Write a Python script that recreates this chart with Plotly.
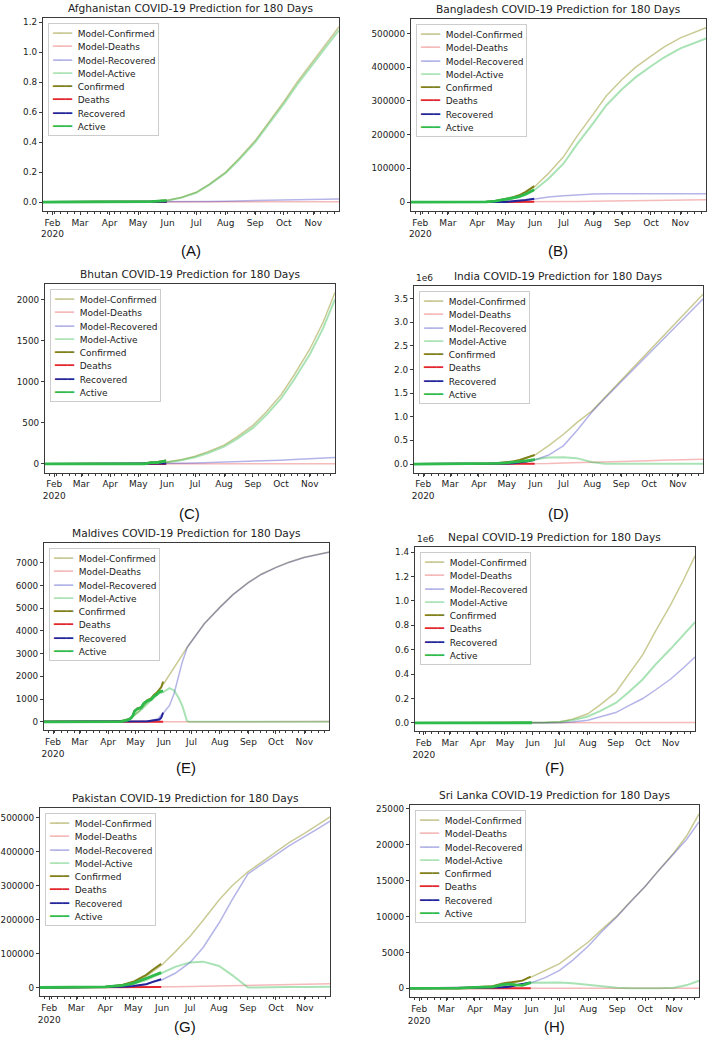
import plotly.graph_objects as go

# ---------------- data ----------------
MODEL_DATES = ["2020-01-22", "2020-02-15", "2020-03-15", "2020-04-01", "2020-04-15", "2020-05-01",
               "2020-05-15", "2020-06-01", "2020-06-15", "2020-07-01", "2020-07-15", "2020-08-01",
               "2020-08-15", "2020-09-01", "2020-09-15", "2020-10-01", "2020-10-15", "2020-11-01",
               "2020-11-15", "2020-11-28"]
OBS_DATES = ["2020-01-22", "2020-03-01", "2020-03-15", "2020-04-01", "2020-04-10", "2020-04-20",
             "2020-05-01", "2020-05-08", "2020-05-15", "2020-05-22", "2020-05-31"]
MDV_MODEL_DATES = ["2020-01-22", "2020-03-15", "2020-04-01", "2020-04-15", "2020-04-25", "2020-05-05",
                   "2020-05-15", "2020-05-25", "2020-06-01", "2020-06-07", "2020-06-12", "2020-06-17",
                   "2020-06-21", "2020-06-24", "2020-06-26", "2020-06-28", "2020-07-05", "2020-07-15",
                   "2020-08-01", "2020-08-15", "2020-09-01", "2020-09-15", "2020-10-01", "2020-10-15",
                   "2020-11-01", "2020-11-15", "2020-11-28"]
MDV_OBS_DATES = ["2020-01-22", "2020-03-08", "2020-04-01", "2020-04-15", "2020-04-22", "2020-04-26",
                 "2020-04-28", "2020-04-30", "2020-05-03", "2020-05-07", "2020-05-10", "2020-05-14",
                 "2020-05-18", "2020-05-21", "2020-05-24", "2020-05-27", "2020-05-29", "2020-05-31"]

# Afghanistan
AFG_M_CONF = [0, 0, 0, 0, 0.001, 0.002, 0.005, 0.012, 0.03, 0.065, 0.12, 0.2, 0.29, 0.41, 0.53, 0.67, 0.8, 0.94, 1.06, 1.17]
AFG_M_DEATH = [0, 0, 0, 0, 0, 0, 0, 0, 0, 0, 0.0002, 0.0004, 0.0006, 0.0008, 0.001, 0.0012, 0.0014, 0.0016, 0.0018, 0.002]
AFG_M_REC = [0, 0, 0, 0, 0, 0, 0.0005, 0.001, 0.002, 0.003, 0.004, 0.006, 0.008, 0.01, 0.012, 0.014, 0.016, 0.018, 0.019, 0.02]
AFG_M_ACT = [0, 0, 0, 0, 0.001, 0.002, 0.0045, 0.011, 0.028, 0.062, 0.116, 0.194, 0.282, 0.4, 0.517, 0.655, 0.783, 0.92, 1.04, 1.148]
AFG_CONF = [0, 0, 0, 0, 0, 0, 0.001, 0.002, 0.004, 0.007, 0.011]
AFG_DEATH = [0, 0, 0, 0, 0, 0, 0, 0, 0, 0, 0]
AFG_REC = [0, 0, 0, 0, 0, 0, 0, 0, 0.001, 0.001, 0.002]
AFG_ACT = [0, 0, 0, 0, 0, 0, 0.001, 0.002, 0.003, 0.006, 0.009]

# Bangladesh
BGD_M_CONF = [0, 0, 0, 100, 1000, 5000, 17000, 47000, 85000, 135000, 195000, 260000, 315000, 365000, 400000, 433000, 460000, 487000, 503000, 517000]
BGD_M_DEATH = [0, 0, 0, 0, 50, 150, 300, 650, 1000, 1500, 2000, 2800, 3400, 4000, 4600, 5200, 5700, 6300, 6700, 7000]
BGD_M_REC = [0, 0, 0, 0, 50, 200, 1500, 9000, 15000, 19000, 22000, 24000, 24500, 25000, 25000, 25000, 25000, 25000, 25000, 25000]
BGD_M_ACT = [0, 0, 0, 100, 900, 4650, 15200, 37350, 69000, 114500, 171000, 233200, 287100, 336000, 370400, 402800, 429300, 455700, 471300, 485000]
BGD_CONF = [0, 0, 3, 54, 424, 2948, 8238, 13770, 20065, 30205, 47153]
BGD_DEATH = [0, 0, 0, 6, 27, 101, 163, 206, 298, 432, 650]
BGD_REC = [0, 0, 0, 25, 33, 85, 174, 2414, 3882, 6190, 9781]
BGD_ACT = [0, 0, 3, 23, 364, 2762, 7901, 11150, 15885, 23583, 36722]

# Bhutan
BTN_M_CONF = [0, 0, 1, 3, 5, 8, 15, 25, 50, 94, 150, 230, 330, 470, 630, 840, 1080, 1400, 1720, 2090]
BTN_M_DEATH = [0, 0, 0, 0, 0, 0, 0, 0, 0, 0, 0, 0, 0, 1, 1, 1, 1, 1, 2, 2]
BTN_M_REC = [0, 0, 0, 0, 1, 2, 3, 5, 8, 12, 16, 20, 25, 30, 37, 45, 53, 62, 71, 80]
BTN_M_ACT = [0, 0, 1, 3, 4, 6, 12, 20, 42, 82, 134, 210, 305, 439, 592, 794, 1026, 1337, 1647, 2008]
BTN_CONF = [0, 0, 1, 4, 5, 5, 7, 7, 21, 24, 43]
BTN_DEATH = [0, 0, 0, 0, 0, 0, 0, 0, 0, 0, 0]
BTN_REC = [0, 0, 0, 0, 2, 2, 5, 5, 5, 6, 6]
BTN_ACT = [0, 0, 1, 4, 3, 3, 2, 2, 16, 18, 37]

# India
IND_M_CONF = [0, 3, 110, 2000, 12000, 37000, 86000, 200000, 390000, 630000, 870000, 1130000, 1420000, 1770000, 2060000, 2390000, 2680000, 3030000, 3320000, 3590000]
IND_M_DEATH = [0, 0, 2, 60, 400, 1200, 2800, 5500, 10000, 20000, 30000, 42000, 50000, 58000, 65000, 72000, 79000, 87000, 95000, 103000]
IND_M_REC = [0, 0, 10, 150, 1500, 10000, 30000, 92000, 190000, 390000, 700000, 1110000, 1400000, 1740000, 2025000, 2350000, 2630000, 2960000, 3230000, 3490000]
IND_M_ACT = [0, 3, 98, 1790, 10100, 25800, 53200, 100000, 140000, 145000, 125000, 40000, 5000, 5000, 5000, 5000, 5000, 5000, 5000, 5000]
IND_CONF = [0, 3, 113, 1998, 7600, 18539, 37257, 56342, 85940, 124794, 190609]
IND_DEATH = [0, 0, 2, 58, 249, 592, 1223, 1889, 2753, 3726, 5408]
IND_REC = [0, 3, 13, 148, 774, 3273, 10007, 16776, 30258, 51824, 91819]
IND_ACT = [0, 0, 98, 1792, 6577, 14674, 26027, 37677, 52929, 69244, 93382]

# Maldives
MDV_M_CONF = [0, 0, 5, 40, 150, 480, 900, 1350, 1700, 2090, 2420, 2740, 3000, 3180, 3270, 3380, 3780, 4330, 5050, 5600, 6140, 6500, 6800, 7030, 7250, 7380, 7480]
MDV_M_DEATH = [0, 0, 0, 0, 1, 2, 3, 4, 5, 6, 7, 8, 8, 9, 9, 9, 10, 10, 10, 10, 10, 10, 10, 10, 10, 10, 10]
MDV_M_REC = [0, 0, 0, 5, 10, 20, 40, 120, 420, 720, 1250, 2050, 2650, 3000, 3250, 3370, 3770, 4320, 5040, 5590, 6130, 6490, 6790, 7020, 7240, 7370, 7470]
MDV_M_ACT = [0, 0, 5, 35, 140, 455, 855, 1225, 1330, 1480, 1380, 1050, 700, 300, 40, 0, 0, 0, 0, 0, 0, 0, 0, 0, 0, 0, 0]
MDV_CONF = [0, 2, 17, 21, 85, 177, 280, 491, 587, 640, 832, 955, 1031, 1186, 1274, 1423, 1520, 1773]
MDV_DEATH = [0, 0, 0, 0, 0, 0, 1, 1, 1, 2, 3, 4, 4, 4, 4, 4, 5, 5]
MDV_REC = [0, 0, 0, 16, 16, 16, 16, 16, 20, 22, 22, 28, 49, 60, 72, 100, 180, 405]
MDV_ACT = [0, 2, 17, 5, 69, 161, 263, 474, 566, 616, 807, 923, 978, 1122, 1198, 1319, 1335, 1363]

# Nepal
NPL_M_CONF = [0, 0, 0, 5, 15, 60, 250, 1500, 4000, 10000, 30000, 75000, 150000, 250000, 390000, 560000, 750000, 970000, 1170000, 1370000]
NPL_M_DEATH = [0, 0, 0, 0, 0, 0, 1, 8, 20, 50, 120, 300, 500, 800, 1100, 1500, 1900, 2300, 2700, 3000]
NPL_M_REC = [0, 0, 0, 1, 2, 10, 40, 200, 1000, 2000, 8000, 22000, 50000, 85000, 140000, 200000, 270000, 360000, 450000, 540000]
NPL_M_ACT = [0, 0, 0, 4, 13, 50, 209, 1292, 2980, 7950, 21880, 52700, 99500, 164200, 248900, 358500, 478100, 607700, 717300, 827000]
NPL_CONF = [0, 1, 1, 5, 9, 31, 59, 101, 267, 548, 1572]
NPL_DEATH = [0, 0, 0, 0, 0, 0, 0, 0, 2, 3, 8]
NPL_REC = [0, 1, 1, 1, 1, 4, 16, 31, 36, 47, 220]
NPL_ACT = [0, 0, 0, 4, 8, 27, 43, 70, 229, 498, 1344]

# Pakistan
PAK_M_CONF = [0, 0, 50, 1500, 5000, 15000, 33000, 67000, 105000, 151000, 198000, 258000, 300000, 341000, 368000, 400000, 427000, 455000, 480000, 503000]
PAK_M_DEATH = [0, 0, 0, 30, 90, 350, 800, 1500, 2200, 3000, 3800, 4700, 5400, 6200, 7000, 7800, 8500, 9300, 10000, 10800]
PAK_M_REC = [0, 0, 0, 100, 700, 4000, 10000, 23000, 42000, 74000, 118000, 190000, 258000, 335000, 360000, 391000, 417000, 444000, 468000, 490000]
PAK_M_ACT = [0, 0, 50, 1370, 4210, 10650, 22200, 42500, 60800, 74000, 76200, 63300, 36600, 0, 1000, 1200, 1500, 1700, 2000, 2200]
PAK_CONF = [0, 4, 53, 2039, 4695, 8418, 16817, 26435, 37218, 52437, 69496]
PAK_DEATH = [0, 0, 0, 26, 66, 176, 385, 599, 803, 1101, 1483]
PAK_REC = [0, 0, 0, 82, 727, 1970, 4315, 7530, 9695, 16653, 24131]
PAK_ACT = [0, 4, 53, 1931, 3902, 6272, 12117, 18306, 26720, 34683, 43882]

# Sri Lanka
LKA_M_CONF = [0, 0, 20, 100, 220, 450, 800, 1600, 2450, 3450, 4800, 6450, 8150, 10100, 12050, 14200, 16350, 18900, 21300, 24300]
LKA_M_DEATH = [0, 0, 0, 2, 5, 7, 8, 10, 11, 12, 13, 14, 15, 16, 17, 18, 19, 20, 21, 22]
LKA_M_REC = [0, 0, 0, 20, 60, 150, 400, 800, 1450, 2500, 3900, 5900, 7850, 10000, 12000, 14180, 16330, 18800, 20800, 23200]
LKA_M_ACT = [0, 0, 20, 80, 150, 290, 390, 780, 830, 800, 700, 470, 250, 80, 20, 0, 0, 80, 450, 1050]
LKA_CONF = [0, 1, 18, 146, 197, 304, 690, 824, 925, 1068, 1620]
LKA_DEATH = [0, 0, 0, 3, 7, 7, 7, 9, 9, 9, 10]
LKA_REC = [0, 1, 1, 17, 56, 98, 154, 232, 439, 638, 811]
LKA_ACT = [0, 0, 17, 126, 134, 199, 529, 583, 477, 421, 799]

# tick values
AFG_YTICKS = [0, 0.2, 0.4, 0.6, 0.8, 1.0, 1.2]
BGD_YTICKS = [0, 100000, 200000, 300000, 400000, 500000]
BTN_YTICKS = [0, 500, 1000, 1500, 2000]
IND_YTICKS = [0, 500000, 1000000, 1500000, 2000000, 2500000, 3000000, 3500000]
MDV_YTICKS = [0, 1000, 2000, 3000, 4000, 5000, 6000, 7000]
NPL_YTICKS = [0, 200000, 400000, 600000, 800000, 1000000, 1200000, 1400000]
PAK_YTICKS = [0, 100000, 200000, 300000, 400000, 500000]
LKA_YTICKS = [0, 5000, 10000, 15000, 20000, 25000]

MONTH_TICKS = ["2020-02-01", "2020-03-01", "2020-04-01", "2020-05-01", "2020-06-01", "2020-07-01",
               "2020-08-01", "2020-09-01", "2020-10-01", "2020-11-01"]
MONTH_LABELS = ["Feb<br>2020", "Mar", "Apr", "May", "Jun", "Jul", "Aug", "Sep", "Oct", "Nov"]
X_RANGE = ["2020-01-22", "2020-11-28"]

MODEL_NAMES = ["Model-Confirmed", "Model-Deaths", "Model-Recovered", "Model-Active"]
OBS_NAMES = ["Confirmed", "Deaths", "Recovered", "Active"]

# ---------------- panel table ----------------
PANELS = [
    dict(title="Afghanistan COVID-19 Prediction for 180 Days", letter="(A)", md=MODEL_DATES, od=OBS_DATES,
         model=[AFG_M_CONF, AFG_M_DEATH, AFG_M_REC, AFG_M_ACT], obs=[AFG_CONF, AFG_DEATH, AFG_REC, AFG_ACT],
         yt=AFG_YTICKS, fmt="{:.1f}", scale=1, offset=None),
    dict(title="Bangladesh COVID-19 Prediction for 180 Days", letter="(B)", md=MODEL_DATES, od=OBS_DATES,
         model=[BGD_M_CONF, BGD_M_DEATH, BGD_M_REC, BGD_M_ACT], obs=[BGD_CONF, BGD_DEATH, BGD_REC, BGD_ACT],
         yt=BGD_YTICKS, fmt="{:.0f}", scale=1, offset=None),
    dict(title="Bhutan COVID-19 Prediction for 180 Days", letter="(C)", md=MODEL_DATES, od=OBS_DATES,
         model=[BTN_M_CONF, BTN_M_DEATH, BTN_M_REC, BTN_M_ACT], obs=[BTN_CONF, BTN_DEATH, BTN_REC, BTN_ACT],
         yt=BTN_YTICKS, fmt="{:.0f}", scale=1, offset=None),
    dict(title="India COVID-19 Prediction for 180 Days", letter="(D)", md=MODEL_DATES, od=OBS_DATES,
         model=[IND_M_CONF, IND_M_DEATH, IND_M_REC, IND_M_ACT], obs=[IND_CONF, IND_DEATH, IND_REC, IND_ACT],
         yt=IND_YTICKS, fmt="{:.1f}", scale=1e6, offset="1e6"),
    dict(title="Maldives COVID-19 Prediction for 180 Days", letter="(E)", md=MDV_MODEL_DATES, od=MDV_OBS_DATES,
         model=[MDV_M_CONF, MDV_M_DEATH, MDV_M_REC, MDV_M_ACT], obs=[MDV_CONF, MDV_DEATH, MDV_REC, MDV_ACT],
         yt=MDV_YTICKS, fmt="{:.0f}", scale=1, offset=None),
    dict(title="Nepal COVID-19 Prediction for 180 Days", letter="(F)", md=MODEL_DATES, od=OBS_DATES,
         model=[NPL_M_CONF, NPL_M_DEATH, NPL_M_REC, NPL_M_ACT], obs=[NPL_CONF, NPL_DEATH, NPL_REC, NPL_ACT],
         yt=NPL_YTICKS, fmt="{:.1f}", scale=1e6, offset="1e6"),
    dict(title="Pakistan COVID-19 Prediction for 180 Days", letter="(G)", md=MODEL_DATES, od=OBS_DATES,
         model=[PAK_M_CONF, PAK_M_DEATH, PAK_M_REC, PAK_M_ACT], obs=[PAK_CONF, PAK_DEATH, PAK_REC, PAK_ACT],
         yt=PAK_YTICKS, fmt="{:.0f}", scale=1, offset=None),
    dict(title="Sri Lanka COVID-19 Prediction for 180 Days", letter="(H)", md=MODEL_DATES, od=OBS_DATES,
         model=[LKA_M_CONF, LKA_M_DEATH, LKA_M_REC, LKA_M_ACT], obs=[LKA_CONF, LKA_DEATH, LKA_REC, LKA_ACT],
         yt=LKA_YTICKS, fmt="{:.0f}", scale=1, offset=None),
]

# ---------------- style / layout ----------------
W, H = 709, 1038
# plot-area boxes in pixels: (left, right, top, bottom)
BOXES = [(41, 338, 17, 210), (410, 706, 18, 210),
         (43, 334, 283, 472), (413, 703, 285, 472),
         (42, 328, 543, 730), (414, 695, 547, 731),
         (38, 329, 808, 996), (409, 699, 805, 997)]
LETTER_Y = [250, 250, 513, 513, 767, 767, 1026, 1026]

MODEL_COLORS = ["rgba(128,128,0,0.42)", "rgba(225,40,40,0.32)", "rgba(40,40,190,0.35)", "rgba(40,185,70,0.40)"]
MODEL_WIDTHS = [1.5, 1.5, 1.5, 2.0]
OBS_COLORS = ["#808018", "#e3262e", "#23239a", "#2fba4c"]
OBS_WIDTHS = [2.0, 2.0, 2.0, 2.8]

FONT = "DejaVu Sans"
AX_COLOR = "#3a3a3a"

# legend built as real text: coloured line glyphs followed by the series name
LEGEND_LINES = []
for name, col in zip(MODEL_NAMES, MODEL_COLORS):
    LEGEND_LINES.append(f'<span style="font-size:10.5px;color:{col}">━━━</span>'
                        f'<span style="font-size:9px">\u00a0\u00a0{name}</span>')
for name, col in zip(OBS_NAMES, OBS_COLORS):
    LEGEND_LINES.append(f'<span style="font-size:10.5px;color:{col}">━━━</span>'
                        f'<span style="font-size:9px">\u00a0\u00a0{name}</span>')
LEGEND_TEXT = "<br>".join(LEGEND_LINES)

fig = go.Figure()
annotations = []
layout = dict(width=W, height=H, margin=dict(l=0, r=0, t=0, b=0),
              paper_bgcolor="white", plot_bgcolor="white", showlegend=False)

for i, p in enumerate(PANELS):
    k = i + 1
    sfx = "" if k == 1 else str(k)
    xref, yref = "x" + sfx, "y" + sfx
    for name, vals, col, wd in zip(MODEL_NAMES, p["model"], MODEL_COLORS, MODEL_WIDTHS):
        fig.add_trace(go.Scatter(x=p["md"], y=vals, mode="lines", name=name,
                                 line=dict(color=col, width=wd), xaxis=xref, yaxis=yref))
    for name, vals, col, wd in zip(OBS_NAMES, p["obs"], OBS_COLORS, OBS_WIDTHS):
        fig.add_trace(go.Scatter(x=p["od"], y=vals, mode="lines", name=name,
                                 line=dict(color=col, width=wd), xaxis=xref, yaxis=yref))

    allv = [v for s in p["model"] + p["obs"] for v in s]
    lo, hi = min(allv), max(allv)
    pad = 0.05 * (hi - lo)
    l, r, t, b = BOXES[i]
    xd = [l / W, r / W]
    yd = [1 - b / H, 1 - t / H]

    layout["xaxis" + sfx] = dict(
        domain=xd, anchor=yref, type="date", range=X_RANGE,
        tickmode="array", tickvals=MONTH_TICKS, ticktext=MONTH_LABELS,
        ticks="outside", ticklen=3, tickwidth=1, tickcolor=AX_COLOR,
        showline=True, linecolor=AX_COLOR, linewidth=1, mirror=True,
        showgrid=False, zeroline=False,
        tickfont=dict(family=FONT, size=9, color="#222"),
        minor=dict(ticks="outside", ticklen=2, tickwidth=1, tickcolor=AX_COLOR,
                   tickmode="linear", tick0="2020-01-27", dtick=7 * 86400000, showgrid=False),
        fixedrange=True,
    )
    layout["yaxis" + sfx] = dict(
        domain=yd, anchor=xref, range=[lo - pad, hi + pad],
        tickmode="array", tickvals=p["yt"], ticktext=[p["fmt"].format(v / p["scale"]) for v in p["yt"]],
        ticks="outside", ticklen=3, tickwidth=1, tickcolor=AX_COLOR,
        showline=True, linecolor=AX_COLOR, linewidth=1, mirror=True,
        showgrid=False, zeroline=False,
        tickfont=dict(family=FONT, size=8.8, color="#222"),
        fixedrange=True,
    )
    # legend box (upper left of each panel)
    annotations.append(dict(text=LEGEND_TEXT, x=(l + 5) / W, y=1 - (t + 5) / H,
                            xref="paper", yref="paper", xanchor="left", yanchor="top", align="left",
                            showarrow=False, bgcolor="rgba(255,255,255,0.85)", bordercolor="#cccccc",
                            borderwidth=1, borderpad=3,
                            font=dict(family=FONT, size=10.2, color="#222")))
    annotations.append(dict(text=p["title"], x=(l + r) / 2 / W, y=1 - (t - 2) / H,
                            xref="paper", yref="paper", xanchor="center", yanchor="bottom",
                            showarrow=False, font=dict(family=FONT, size=10.6, color="#222")))
    annotations.append(dict(text=p["letter"], x=(l + r) / 2 / W, y=1 - LETTER_Y[i] / H,
                            xref="paper", yref="paper", xanchor="center", yanchor="middle",
                            showarrow=False, font=dict(family="Liberation Sans", size=15, color="#111")))
    if p["offset"]:
        annotations.append(dict(text=p["offset"], x=l / W, y=1 - (t - 1) / H,
                                xref="paper", yref="paper", xanchor="left", yanchor="bottom",
                                showarrow=False, font=dict(family=FONT, size=9, color="#222")))

layout["annotations"] = annotations
fig.update_layout(**layout)
fig.write_html("out.html", config={"displayModeBar": False},
               post_script="document.body.style.margin='0px';document.body.style.overflow='hidden';")
